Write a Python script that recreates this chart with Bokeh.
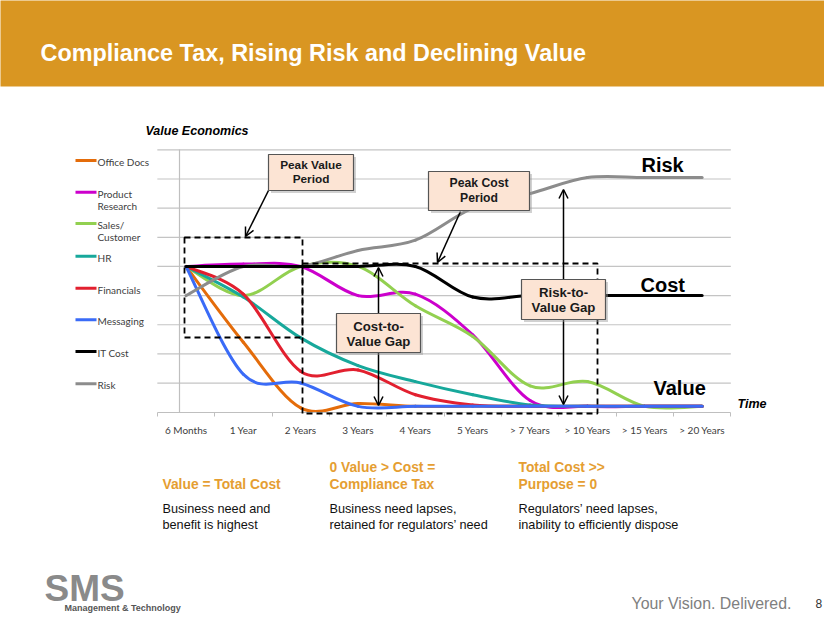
from bokeh.plotting import figure
from bokeh.models import Range1d, LinearAxis, FixedTicker, BoxAnnotation, Label, Arrow, OpenHead
from bokeh.embed import file_html
from bokeh.resources import INLINE

# ---------------- data ----------------
categories = ["6 Months", "1 Year", "2 Years", "3 Years", "4 Years", "5 Years",
              "> 7 Years", "> 10 Years", "> 15 Years", "> 20 Years"]
office_docs      = [5.0, 2.4, 0.15, 0.3, 0.2, 0.2, 0.2, 0.2, 0.2, 0.2]
product_research = [5.0, 5.08, 5.0, 4.0, 4.05, 2.65, 0.4, 0.2, 0.2, 0.2]
sales_customer   = [5.0, 4.0, 5.0, 5.0, 3.65, 2.6, 0.9, 1.05, 0.2, 0.2]
hr               = [5.0, 3.95, 2.55, 1.6, 1.05, 0.6, 0.25, 0.2, 0.2, 0.2]
financials       = [5.0, 4.05, 1.4, 1.45, 0.6, 0.25, 0.2, 0.2, 0.2, 0.2]
messaging        = [5.0, 1.3, 1.0, 0.2, 0.2, 0.2, 0.2, 0.2, 0.2, 0.2]
it_cost          = [5.0, 5.0, 5.0, 5.0, 5.0, 3.95, 4.0, 4.0, 4.0, 4.0]
risk             = [4.0, 5.0, 5.0, 5.55, 5.9, 7.0, 7.5, 8.05, 8.05, 8.05]
grid_levels = [1, 2, 3, 4, 5, 6, 7, 8, 9]

series_names = ["Office Docs", "Product\nResearch", "Sales/\nCustomer", "HR",
                "Financials", "Messaging", "IT Cost", "Risk"]
series_values = [office_docs, product_research, sales_customer, hr,
                 financials, messaging, it_cost, risk]
series_colors = ["#E46C0A", "#CC00CC", "#92D050", "#17A89B",
                 "#E2202F", "#3A6BF7", "#000000", "#8C8C8C"]
draw_order = [0, 1, 2, 3, 4, 5, 7, 6]

# ---------------- layout ----------------
W, H = 824, 614
X0, XS = 185.5, 57.35    # first category centre (slide px) / px per category
Y0, YS = 411.7, 29.15    # value 0 (slide px) / px per grid step


def sx(X):
    return X


def sy(Y):
    return H - Y


p = figure(width=W, height=H,
           x_range=Range1d((0 - X0) / XS, (W - X0) / XS),
           y_range=Range1d((Y0 - H) / YS, Y0 / YS),
           x_axis_type=None, y_axis_type=None, toolbar_location=None,
           output_backend="svg", min_border=0, outline_line_color=None,
           background_fill_color="white", border_fill_color="white")

n = len(categories)

# horizontal gridlines
p.segment(x0=-0.5, x1=n - 0.5, y0=grid_levels, y1=grid_levels,
          line_color="#c4c4c4", line_width=1.2)

# category axis
xaxis = LinearAxis(fixed_location=0, bounds=(-0.5, n - 0.5),
                   ticker=FixedTicker(ticks=list(range(n)),
                                      minor_ticks=[i - 0.5 for i in range(n + 1)]),
                   major_label_overrides={i: c for i, c in enumerate(categories)},
                   axis_line_color="#bfbfbf", axis_line_width=1.2,
                   major_tick_line_color=None, major_tick_in=0, major_tick_out=0,
                   minor_tick_line_color="#bfbfbf", minor_tick_in=0, minor_tick_out=4,
                   major_label_standoff=8, major_label_text_font="Lato",
                   major_label_text_font_size="10px", major_label_text_color="#404040")
p.add_layout(xaxis, "below")

# value axis line (no labels)
yaxis = LinearAxis(fixed_location=-0.11, bounds=(0, max(grid_levels)),
                   ticker=FixedTicker(ticks=[]),
                   axis_line_color="#bfbfbf", axis_line_width=1.2,
                   major_tick_line_color=None, minor_tick_line_color=None,
                   major_label_text_font_size="0px")
p.add_layout(yaxis, "left")


def smooth_segments(vals):
    m = len(vals)
    pts = [(float(i), float(v)) for i, v in enumerate(vals)]
    out = {k: [] for k in ("x0", "y0", "x1", "y1", "cx0", "cy0", "cx1", "cy1")}
    for i in range(m - 1):
        pa = pts[i - 1] if i > 0 else pts[i]
        pb = pts[i]
        pc = pts[i + 1]
        pd = pts[i + 2] if i + 2 < m else pts[i + 1]
        out["x0"].append(pb[0]); out["y0"].append(pb[1])
        out["x1"].append(pc[0]); out["y1"].append(pc[1])
        out["cx0"].append(pb[0] + (pc[0] - pa[0]) / 6.0)
        out["cy0"].append(pb[1] + (pc[1] - pa[1]) / 6.0)
        out["cx1"].append(pc[0] - (pd[0] - pb[0]) / 6.0)
        out["cy1"].append(pc[1] - (pd[1] - pb[1]) / 6.0)
    return out


for k in draw_order:
    seg = smooth_segments(series_values[k])
    p.bezier(line_color=series_colors[k], line_width=3, line_cap="round", **seg)


# ---------------- helpers for annotations ----------------
def label(X, Y, text, size, color="#000000", style="normal", font="Liberation Sans",
          align="left"):
    # Y is the wanted baseline (slide px); compensate label baseline placement
    p.add_layout(Label(x=sx(X), y=sy(Y - 0.37 * size), x_units="screen", y_units="screen",
                       text=text, text_font=font, text_font_size=f"{size}px",
                       text_font_style=style, text_color=color, text_align=align,
                       text_baseline="alphabetic"))


def box(L, T, R, B, **kw):
    p.add_layout(BoxAnnotation(left=sx(L), right=sx(R), top=sy(T), bottom=sy(B),
                               left_units="screen", right_units="screen",
                               top_units="screen", bottom_units="screen", **kw))


def arrow(X1, Y1, X2, Y2, both=False):
    head = dict(size=9, line_width=1.5, line_color="black")
    p.add_layout(Arrow(x_start=sx(X1), y_start=sy(Y1), x_end=sx(X2), y_end=sy(Y2),
                       start_units="screen", end_units="screen",
                       start=OpenHead(**head) if both else None,
                       end=OpenHead(**head), line_width=1.5, line_color="black"))


# header banner
box(-20, -20, 860, 86, fill_color="#D99622", fill_alpha=1, line_color=None)
label(40, 61, "Compliance Tax, Rising Risk and Declining Value", 23.4, color="white", style="bold")

# chart captions
label(145, 135.5, "Value Economics", 12.5, style="bold italic")
label(737, 408.5, "Time", 12.5, style="bold italic")
label(641, 172, "Risk", 20, style="bold")
label(640, 292, "Cost", 20, style="bold")
label(653, 395, "Value", 20, style="bold")

# legend
legend_swatch_y = [160, 191.7, 223, 255.7, 287.7, 319.3, 351, 383.3]
for k, yy in enumerate(legend_swatch_y):
    box(75, yy - 1.5, 96, yy + 1.5, fill_color=series_colors[k], fill_alpha=1, line_color=None)
    lines = series_names[k].split("\n")
    for j, t in enumerate(lines):
        label(97, yy + 5.0 + j * 12.5, t, 10, color="#404040", font="Lato")

# dashed period boxes
dash = dict(fill_color=None, fill_alpha=0, line_color="black", line_alpha=1,
            line_width=1.8, line_dash="6 4")
box(184, 237, 302, 337, **dash)
box(302, 263, 597, 413, **dash)

# arrows
arrow(268, 190, 245, 236)
arrow(460, 211, 437, 262)
arrow(378, 267, 378, 405, both=True)
arrow(563, 189, 563, 404, both=True)

# call-out boxes
callouts = [
    (268, 154, 353, 190, ["Peak Value", "Period"], [168.5, 182.5], 11.8),
    (428, 171, 529, 210, ["Peak Cost", "Period"], [187, 202], 12.2),
    (336, 313, 420, 352, ["Cost-to-", "Value Gap"], [330.5, 345.5], 13.2),
    (521, 279, 605, 319, ["Risk-to-", "Value Gap"], [296.5, 311.5], 13.2),
]
for (L, T, R, B, texts, ys, fs) in callouts:
    box(L + 2.5, T + 2.5, R + 2.5, B + 2.5, fill_color="#9a9a9a", fill_alpha=0.45, line_color=None)
    box(L, T, R, B, fill_color="#FCE4D4", fill_alpha=1, line_color="#555555",
        line_alpha=1, line_width=1.2)
    for t, yy in zip(texts, ys):
        label((L + R) / 2, yy, t, fs, color="#1a1a1a", style="bold", align="center")

# bottom explanation texts
orange = "#E59E32"
label(162, 489, "Value = Total Cost", 13.8, color=orange, style="bold")
label(329, 472, "0 Value > Cost =", 13.8, color=orange, style="bold")
label(329, 489, "Compliance Tax", 13.8, color=orange, style="bold")
label(518, 472, "Total Cost >>", 13.8, color=orange, style="bold")
label(518, 489, "Purpose = 0", 13.8, color=orange, style="bold")
label(162, 513.5, "Business need and", 12.7, color="#111111")
label(162, 529.5, "benefit is highest", 12.7, color="#111111")
label(329, 513.5, "Business need lapses,", 12.7, color="#111111")
label(329, 529.5, "retained for regulators\u2019 need", 12.7, color="#111111")
label(518, 513.5, "Regulators\u2019 need lapses,", 12.7, color="#111111")
label(518, 529.5, "inability to efficiently dispose", 12.7, color="#111111")

# footer
label(44, 602, "SMS", 37, color="#8a8a8a", style="bold")
label(64, 611, "Management & Technology", 9, color="#555555", style="bold")
label(631, 609, "Your Vision. Delivered.", 15.9, color="#808080")
label(815, 607, "8", 12, color="#333333")

open("out.html", "w").write(file_html(p, INLINE))
